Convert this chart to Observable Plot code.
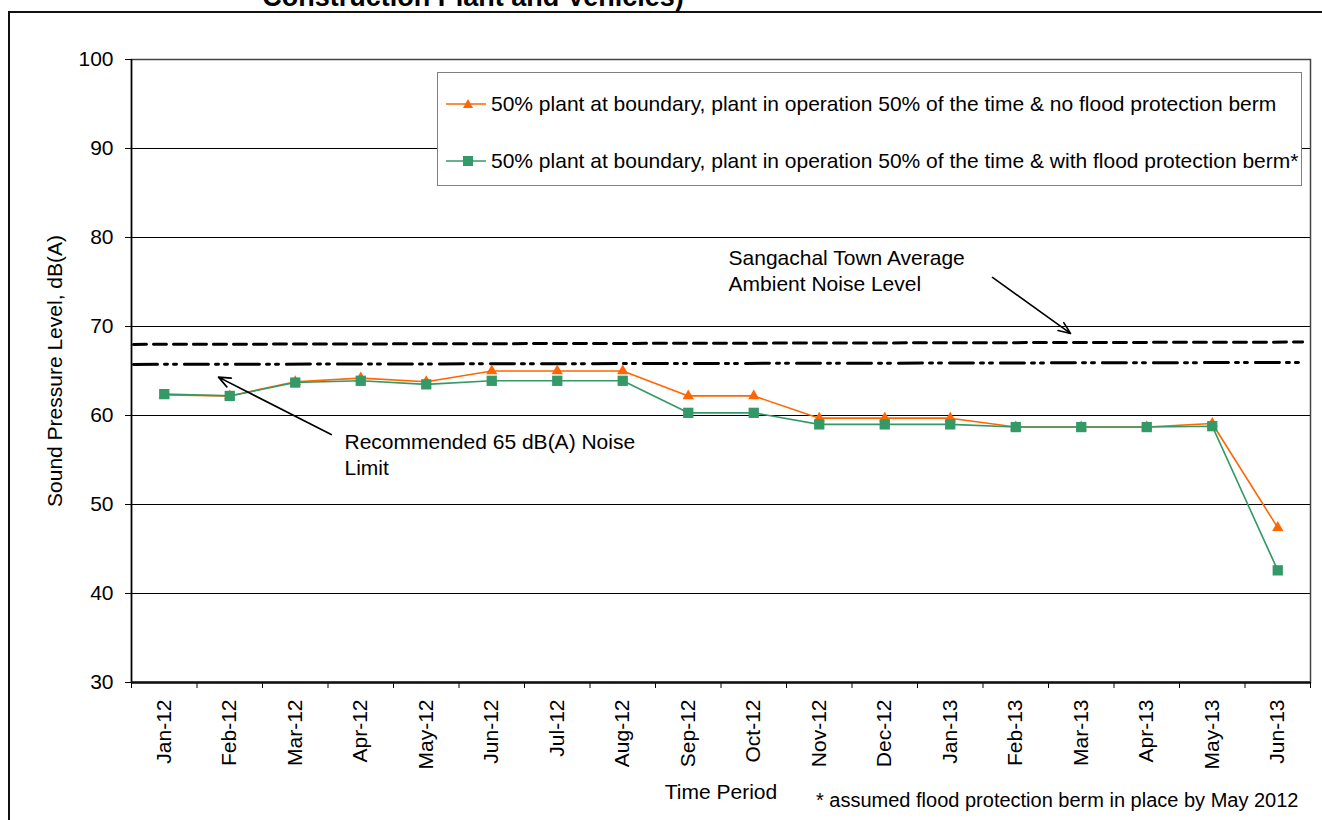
<!DOCTYPE html>
<html>
<head>
<meta charset="utf-8">
<script src="https://cdn.jsdelivr.net/npm/d3@7"></script>
<script src="https://cdn.jsdelivr.net/npm/@observablehq/plot@0.6"></script>
<style>
  body { margin: 0; background: #fff; font-family: "Liberation Sans", Arial, sans-serif; }
  #wrap { position: relative; width: 1322px; height: 820px; overflow: hidden; background: #fff; }
  #chart { position: absolute; left: 0; top: 0; }
  #frame { position: absolute; left: 8px; top: 11px; width: 1400px; height: 900px; border-left: 2px solid #111; border-top: 2px solid #111; box-sizing: border-box; pointer-events: none; }
  #legend { position: absolute; left: 437px; top: 72px; width: 865px; height: 114px; border: 1.5px solid #7f7f7f; background: #fff; box-sizing: border-box; }
  .item { position: absolute; left: 8px; height: 24px; display: flex; align-items: center; font-size: 21px; color: #000; white-space: nowrap; }
  .item svg { display: block; margin-right: 3px; }
</style>
</head>
<body>
<div id="wrap">
  <div id="chart"></div>
  <div id="frame"></div>
  <div id="legend"></div>
</div>
<script>
// ---- data ----
const months = ["Jan-12","Feb-12","Mar-12","Apr-12","May-12","Jun-12","Jul-12","Aug-12","Sep-12","Oct-12","Nov-12","Dec-12","Jan-13","Feb-13","Mar-13","Apr-13","May-13","Jun-13"];
const noBerm   = [62.3, 62.2, 63.8, 64.2, 63.8, 65.0, 65.0, 65.0, 62.2, 62.2, 59.7, 59.7, 59.7, 58.7, 58.7, 58.7, 59.1, 47.4];
const withBerm = [62.4, 62.2, 63.7, 63.9, 63.5, 63.9, 63.9, 63.9, 60.3, 60.3, 59.0, 59.0, 59.0, 58.7, 58.7, 58.7, 58.8, 42.6];
const seriesNames = [
  "50% plant at boundary, plant in operation 50% of the time & no flood protection berm",
  "50% plant at boundary, plant in operation 50% of the time & with flood protection berm*"
];
const seriesColors = ["#FF6600", "#339966"];
const yTicks = [30, 40, 50, 60, 70, 80, 90, 100];
// reference lines (drawn shapes in the original), x in month index units
const ambientX = [-0.47, 17.38];
const ambientY = [67.99, 68.25];
const limitX = [-0.47, 17.32];
const limitY = [65.74, 65.96];
// annotations
const annotationText = ["Sangachal Town Average\nAmbient Noise Level", "Recommended 65 dB(A) Noise\nLimit"];
const annotationX = [8.615, 2.752];
const annotationY = [79.0, 58.3];
const arrowX1 = [12.645, 2.549];
const arrowY1 = [75.52, 57.86];
const arrowX2 = [13.836, 0.828];
const arrowY2 = [69.22, 64.31];
const titleText = "Construction Plant and Vehicles)";
const yLabel = "Sound Pressure Level, dB(A)";
const xLabel = "Time Period";
const footnote = "* assumed flood protection berm in place by May 2012";

// ---- tables ----
const rowsA = months.map((m, i) => ({i, v: noBerm[i]}));
const rowsB = months.map((m, i) => ({i, v: withBerm[i]}));
const ambient = ambientX.map((x, k) => ({x, y: ambientY[k]}));
const limit = limitX.map((x, k) => ({x, y: limitY[k]}));
const notes = annotationText.map((t, k) => ({t, x: annotationX[k], y: annotationY[k]}));
const arrows = arrowX1.map((x1, k) => ({x1, y1: arrowY1[k], x2: arrowX2[k], y2: arrowY2[k]}));
const idx = d3.range(months.length);
const bounds = d3.range(months.length + 1).map(k => k - 0.5);

const font = "'Liberation Sans', Arial, sans-serif";

const chart = Plot.plot({
  width: 1322,
  height: 820,
  marginLeft: 131,
  marginRight: 12,
  marginTop: 59,
  marginBottom: 138,
  style: {fontSize: "21px", fontFamily: font, color: "#000", background: "transparent", overflow: "visible"},
  x: {domain: [-0.5, months.length - 0.5]},
  y: {domain: [30, 100]},
  marks: [
    Plot.ruleY(yTicks.slice(1), {stroke: "#000", strokeWidth: 1}),
    Plot.frame({stroke: "#444", strokeWidth: 1.5}),
    Plot.axisY({ticks: yTicks, tickSize: 6, tickPadding: 12, label: null, tickFormat: d => String(d)}),
    Plot.axisX({ticks: idx, tickFormat: i => months[i], tickSize: 0, tickPadding: 17, tickRotate: -90, label: null}),
    Plot.axisX({ticks: bounds, tickFormat: () => "", tickSize: 6, label: null}),
    Plot.ruleX([-0.5], {stroke: "#000", strokeWidth: 1.5}),
    Plot.ruleY([30], {stroke: "#111", strokeWidth: 2.5}),
    // reference lines
    Plot.line(ambient, {x: "x", y: "y", stroke: "#000", strokeWidth: 3, strokeDasharray: "13,7"}),
    Plot.line(limit, {x: "x", y: "y", stroke: "#000", strokeWidth: 3, strokeDasharray: "24,7,3,6,3,8"}),
    // series
    Plot.line(rowsA, {x: "i", y: "v", stroke: seriesColors[0], strokeWidth: 1.6}),
    Plot.dot(rowsA, {x: "i", y: "v", symbol: "triangle", r: 4.2, fill: seriesColors[0], stroke: "none"}),
    Plot.line(rowsB, {x: "i", y: "v", stroke: seriesColors[1], strokeWidth: 1.6}),
    Plot.dot(rowsB, {x: "i", y: "v", symbol: "square", r: 5.8, fill: seriesColors[1], stroke: "none"}),
    // annotations
    Plot.arrow(arrows, {x1: "x1", y1: "y1", x2: "x2", y2: "y2", stroke: "#000", strokeWidth: 1.6, headLength: 12, headAngle: 45}),
    Plot.text(notes, {x: "x", y: "y", text: "t", textAnchor: "start", lineAnchor: "top", lineHeight: 1.24, fontSize: 21}),
    // titles
    Plot.text([yLabel], {frameAnchor: "left", textAnchor: "middle", dx: -76, rotate: -90, fontSize: 21}),
    Plot.text([xLabel], {frameAnchor: "bottom", textAnchor: "middle", dy: 116, fontSize: 21}),
    Plot.text([footnote], {frameAnchor: "bottom-right", textAnchor: "end", dx: -12, dy: 124, fontSize: 20}),
    Plot.text([titleText], {frameAnchor: "top", textAnchor: "middle", dx: -248, dy: -54, lineAnchor: "bottom", fontSize: 27, fontWeight: "bold"})
  ]
});
document.getElementById("chart").appendChild(chart);

// ---- legend ----
const legend = document.getElementById("legend");
const rowTops = [19, 76];
seriesNames.forEach((name, k) => {
  const item = document.createElement("div");
  item.className = "item";
  item.style.top = rowTops[k] + "px";
  const c = seriesColors[k];
  const marker = k === 0
    ? `<path d="M22,7 L27,16 L17,16 Z" fill="${c}"/>`
    : `<rect x="17" y="7" width="10" height="10" fill="${c}"/>`;
  item.innerHTML = `<svg width="42" height="24"><line x1="0" y1="12" x2="40" y2="12" stroke="${c}" stroke-width="1.6"/>${marker}</svg><span></span>`;
  item.querySelector("span").textContent = name;
  legend.appendChild(item);
});
</script>
</body>
</html>
